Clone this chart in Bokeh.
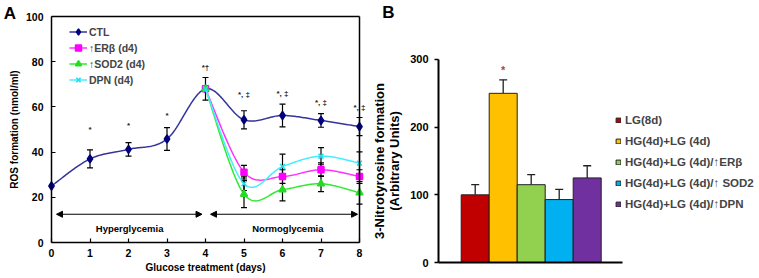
import numpy as np
from bokeh.plotting import figure
from bokeh.models import (ColumnDataSource, Whisker, TeeHead, Arrow, NormalHead,
                          Legend, LegendItem, Label, FixedTicker, LinearAxis)
from bokeh.layouts import row
from bokeh.embed import file_html
from bokeh.resources import INLINE
from bokeh.core.properties import value

FONT = "Liberation Sans"

# ---------------- Panel A data ----------------
days = [0, 1, 2, 3, 4, 5, 6, 7, 8]
ctl = [25, 37, 41.2, 45.8, 68, 54.3, 56.2, 54, 51.3]
ctl_err = [0, 4, 3, 5, 5, 4, 5, 3, 4]
treat_days = [4, 5, 6, 7, 8]
erb = [68, 31.1, 29.2, 32.2, 29.2]
erb_err = [0, 3, 3, 3, 3]
sod2 = [68, 21.4, 23.4, 26, 22]
sod2_err = [0, 6, 5, 3.5, 5]
dpn = [68, 26, 33.6, 38.2, 35.1]
dpn_err = [0, 3, 5.5, 3.8, 5]
x_ticks = [0, 1, 2, 3, 4, 5, 6, 7, 8]
y_ticks_a = [0, 20, 40, 60, 80, 100]

annot_days = [1, 2, 3, 4, 5, 6, 7, 8]
annot_y = [50, 51.8, 56.2, 77.4, 65.5, 66, 62, 59.7]
annot_txt = ["*", "*", "*", "*\u2020", "*, \u2021", "*, \u2021", "*, \u2021", "*, \u2021"]

phase_start = [0.13, 4.13]
phase_end = [3.91, 7.95]
phase_level = [12.5, 12.5]
phase_label_x = [2.03, 6.14]
phase_label_y = [6, 6]
phase_labels = ["Hyperglycemia", "Normoglycemia"]

# ---------------- Panel B data ----------------
groups = ["LG(8d)", "HG(4d)+LG (4d)", "HG(4d)+LG (4d)/\u2191ER\u03b2",
          "HG(4d)+LG (4d)/\u2191 SOD2", "HG(4d)+LG (4d)/\u2191DPN"]
nitro = [100, 250, 115, 93, 125]
nitro_err = [15, 20, 15, 15, 18]
bar_colors = ["#C00000", "#FFC000", "#92D050", "#00B0F0", "#7030A0"]
y_ticks_b = [0, 100, 200, 300]
star_y = 284


def smooth(xs, ys, n=30):
    """Excel-like smoothed line (Catmull-Rom Bezier) through the data points."""
    P = np.column_stack([np.asarray(xs, float), np.asarray(ys, float)])
    t = np.linspace(0, 1, n)[:, None]
    out = []
    for i in range(len(P) - 1):
        p0 = P[i - 1] if i > 0 else P[i]
        p1 = P[i]
        p2 = P[i + 1]
        p3 = P[i + 2] if i + 2 < len(P) else P[i + 1]
        c1 = p1 + (p2 - p0) / 6.0
        c2 = p2 - (p3 - p1) / 6.0
        seg = ((1 - t) ** 3) * p1 + 3 * ((1 - t) ** 2) * t * c1 + 3 * (1 - t) * t ** 2 * c2 + t ** 3 * p2
        out.append(seg if i == 0 else seg[1:])
    S = np.vstack(out)
    return S[:, 0], S[:, 1]


def style_axis(ax, font_size, tick_in, tick_out):
    ax.axis_line_color = "black"
    ax.major_tick_in = tick_in
    ax.major_tick_out = tick_out
    ax.major_tick_line_color = "black"
    ax.minor_tick_line_color = None
    ax.major_label_text_font = FONT
    ax.major_label_text_font_style = "bold"
    ax.major_label_text_font_size = font_size
    ax.major_label_text_color = "black"
    ax.axis_label_text_font = FONT
    ax.axis_label_text_font_style = "bold"
    ax.axis_label_text_color = "black"


def bare_axis(**kw):
    return LinearAxis(ticker=FixedTicker(ticks=[]), major_tick_line_color=None,
                      minor_tick_line_color=None, major_label_text_font_size="0px",
                      axis_line_color="black", **kw)


# ---------------- Figure A (frame covers the whole figure) ----------------
A_W, A_H = 372, 278
A_X0, A_PPD = 51.0, 38.5      # pixel of day 0, pixels per day
A_Y0, A_PPU = 242.0, 2.26     # pixel of 0 nmol/ml, pixels per unit


def ax_(px):
    return (px - A_X0) / A_PPD


def ay_(py):
    return (A_Y0 - py) / A_PPU


pA = figure(width=A_W, height=A_H, x_range=(ax_(0), ax_(A_W)), y_range=(ay_(A_H), ay_(0)),
            output_backend="svg", toolbar_location=None, min_border=0)
pA.xgrid.visible = False
pA.ygrid.visible = False
pA.outline_line_color = None
pA.background_fill_color = "white"

style_axis(pA.xaxis[0], "10.5px", 4, 0)
style_axis(pA.yaxis[0], "10.5px", 4, 0)
pA.xaxis.fixed_location = y_ticks_a[0]
pA.yaxis.fixed_location = x_ticks[0]
pA.xaxis.bounds = (x_ticks[0], x_ticks[-1])
pA.yaxis.bounds = (y_ticks_a[0], y_ticks_a[-1])
pA.xaxis.axis_line_width = 1.5
pA.yaxis.axis_line_width = 1.5
pA.xaxis.major_tick_line_width = 1.2
pA.yaxis.major_tick_line_width = 1.2
pA.xaxis.ticker = FixedTicker(ticks=x_ticks)
pA.yaxis.ticker = FixedTicker(ticks=y_ticks_a)
pA.xaxis.major_label_standoff = 6
pA.yaxis.major_label_standoff = 8
pA.xaxis.axis_label = "Glucose treatment (days)"
pA.yaxis.axis_label = "ROS formation (nmol/ml)"
pA.xaxis.axis_label_text_font_size = "10px"
pA.yaxis.axis_label_text_font_size = "10px"
pA.xaxis.axis_label_standoff = 2
pA.yaxis.axis_label_standoff = 3
# box: top and right borders
pA.add_layout(bare_axis(fixed_location=x_ticks[-1], bounds=(y_ticks_a[0], y_ticks_a[-1]),
                        axis_line_width=1.5), "right")
pA.add_layout(bare_axis(fixed_location=y_ticks_a[-1], bounds=(x_ticks[0], x_ticks[-1]),
                        axis_line_width=1.5), "above")

series = [
    ("CTL", days, ctl, ctl_err, "#333399", "#000080", "diamond", 8),
    ("\u2191ER\u03b2 (d4)", treat_days, erb, erb_err, "#FF33FF", "#FF00FF", "square", 6),
    ("\u2191SOD2 (d4)", treat_days, sod2, sod2_err, "#33E833", "#22DD22", "triangle", 7),
    ("DPN (d4)", treat_days, dpn, dpn_err, "#44EEFF", "#22DDEE", "x", 7),
]

legend_items = []
for name, xs, ys, errs, lc, mc, marker, size in series:
    sx, sy = smooth(xs, ys)
    ln = pA.line(sx, sy, line_color=lc, line_width=1.5)
    xe = [x for x, e in zip(xs, errs) if e > 0]
    ye = [y for y, e in zip(ys, errs) if e > 0]
    ee = [e for e in errs if e > 0]
    src = ColumnDataSource(dict(x=xe, lo=[y - e for y, e in zip(ye, ee)],
                                hi=[y + e for y, e in zip(ye, ee)]))
    w = Whisker(base="x", lower="lo", upper="hi", source=src, line_color="black", line_width=1.2,
                upper_head=TeeHead(size=6, line_color="black", line_width=1.2),
                lower_head=TeeHead(size=6, line_color="black", line_width=1.2))
    pA.add_layout(w)
    sc = pA.scatter(xs, ys, marker=marker, size=size, fill_color=mc, line_color=mc, line_width=1.5)
    legend_items.append(LegendItem(label=name, renderers=[ln, sc]))

legA = Legend(items=legend_items, location=(69, 191), padding=4, margin=0, spacing=1,
              glyph_width=18, glyph_height=15, label_height=15, label_standoff=2,
              label_text_font=FONT, label_text_font_style="bold", label_text_font_size="10.5px",
              background_fill_alpha=0, border_line_color=None)
pA.add_layout(legA, "center")

annot_src = ColumnDataSource(dict(x=annot_days, y=annot_y, t=annot_txt))
pA.text(x="x", y="y", text="t", source=annot_src, text_font=value(FONT), text_font_style="bold",
        text_font_size="8px", text_color="#222222", text_align="center", text_baseline="middle")

phase_src = ColumnDataSource(dict(xs=phase_start, xe=phase_end, y=phase_level))
pA.add_layout(Arrow(start=NormalHead(size=6, fill_color="black", line_color="black"),
                    end=NormalHead(size=6, fill_color="black", line_color="black"),
                    x_start="xs", y_start="y", x_end="xe", y_end="y", source=phase_src,
                    line_color="black", line_width=1.2))
plab_src = ColumnDataSource(dict(x=phase_label_x, y=phase_label_y, t=phase_labels))
pA.text(x="x", y="y", text="t", source=plab_src, text_font=value(FONT), text_font_style="bold",
        text_font_size="9.5px", text_color="black", text_align="center", text_baseline="middle")

pA.add_layout(Label(x=ax_(3.3), y=ay_(3), text="A", text_font=FONT, text_font_style="bold",
                    text_font_size="17px", text_align="left", text_baseline="top", text_color="black"))

# ---------------- Figure B (frame covers the whole figure) ----------------
B_W, B_H = 387, 278
B_BAR0, B_PPB = 88.7, 28.0    # local pixel of first bar's left edge, pixels per bar
B_Y0, B_PPU = 262.0, 0.6767   # local pixel of 0, pixels per unit
B_AXIS_L, B_AXIS_R = 66.0, 250.0


def bx_(px):
    return 0.5 + (px - B_BAR0) / B_PPB


def by_(py):
    return (B_Y0 - py) / B_PPU


pB = figure(width=B_W, height=B_H, x_range=(bx_(0), bx_(B_W)), y_range=(by_(B_H), by_(0)),
            output_backend="svg", toolbar_location=None, min_border=0)
pB.xgrid.visible = False
pB.ygrid.visible = False
pB.outline_line_color = None
pB.background_fill_color = "white"

style_axis(pB.xaxis[0], "0px", 0, 0)
style_axis(pB.yaxis[0], "11px", 0, 4)
pB.xaxis.ticker = FixedTicker(ticks=[])
pB.xaxis.major_tick_line_color = None
pB.xaxis.fixed_location = y_ticks_b[0]
pB.xaxis.bounds = (bx_(B_AXIS_L), bx_(B_AXIS_R))
pB.xaxis.axis_line_width = 2
pB.yaxis.fixed_location = bx_(B_AXIS_L)
pB.yaxis.bounds = (y_ticks_b[0], y_ticks_b[-1])
pB.yaxis.axis_line_width = 2
pB.yaxis.ticker = FixedTicker(ticks=y_ticks_b)
pB.yaxis.major_tick_line_width = 1.5
pB.yaxis.major_label_standoff = 6
pB.yaxis.axis_label = "3-Nitrotyrosine formation\n(Arbitrary Units)"
pB.yaxis.axis_label_text_font_size = "13px"
pB.yaxis.axis_label_text_line_height = 1.0
pB.yaxis.axis_label_standoff = 5

xpos = list(range(1, len(groups) + 1))
srcB = ColumnDataSource(dict(x=xpos, top=nitro, upper=[v + e for v, e in zip(nitro, nitro_err)],
                             color=bar_colors, label=groups))
bars = pB.vbar(x="x", top="top", width=1, source=srcB, fill_color="color",
               line_color="#222222", line_width=1)
pB.add_layout(Whisker(base="x", lower="top", upper="upper", source=srcB,
                      line_color="#222222", line_width=1.3,
                      upper_head=TeeHead(size=8, line_color="#222222", line_width=1.3),
                      lower_head=None))
pB.text(x=[xpos[1]], y=[star_y], text=["*"], text_font=value(FONT), text_font_style="bold",
        text_font_size="11px", text_color="#B0405A", text_align="center", text_baseline="middle")

legB = Legend(items=[LegendItem(label=g, renderers=[bars], index=i) for i, g in enumerate(groups)],
              location=(243, 68), padding=0, margin=0, spacing=8,
              glyph_width=6, glyph_height=6, label_height=13, label_standoff=4,
              label_text_font=FONT, label_text_font_style="bold", label_text_font_size="11.5px",
              background_fill_alpha=0, border_line_color=None)
pB.add_layout(legB, "center")

pB.add_layout(Label(x=bx_(9.7), y=by_(2), text="B", text_font=FONT, text_font_style="bold",
                    text_font_size="17px", text_align="left", text_baseline="top", text_color="black"))

layout = row(pA, pB)
open("out.html", "w").write(file_html(layout, INLINE))
